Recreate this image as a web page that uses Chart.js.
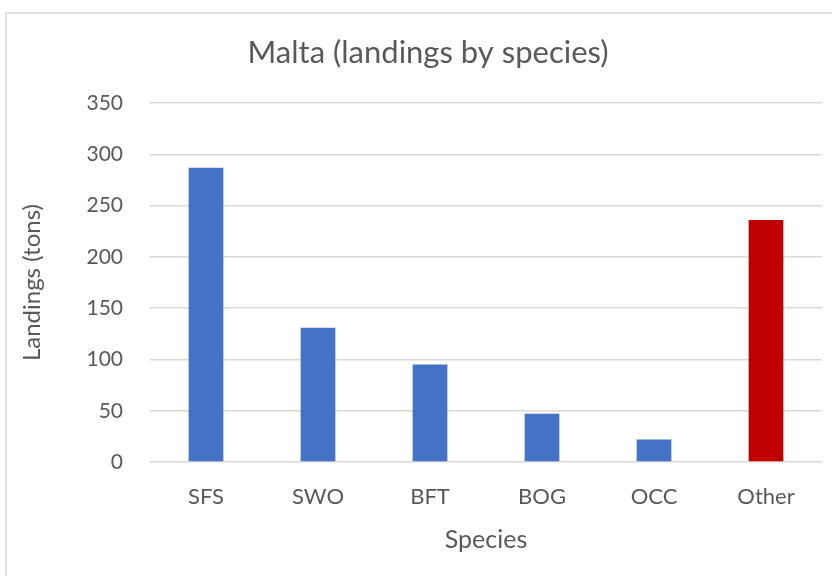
<!DOCTYPE html>
<html lang="en">
<head>
  <meta charset="UTF-8">
  <title>Malta landings</title>
  <script src="https://cdn.jsdelivr.net/npm/chart.js@4.4.1/dist/chart.umd.min.js"></script>
  <style>
    html, body { margin: 0; padding: 0; background: #fff; }
    #wrap { width: 832px; height: 576px; }
  </style>
</head>
<body>
  <div id="wrap"><canvas id="barChart" width="832" height="576"></canvas></div>

  <script>
    // landings per species, tons
    const species = ['SFS', 'SWO', 'BFT', 'BOG', 'OCC', 'Other'];
    const landings = [287, 131, 95, 47, 22, 236];
    const barColors = ['#4472C4', '#4472C4', '#4472C4', '#4472C4', '#4472C4', '#C00000'];

    const textColor = '#595959';
    const fontFamily = 'Lato, "Open Sans", sans-serif';

    // light grey frame round the whole chart
    const frame = {
      id: 'frame',
      beforeDraw(chart) {
        const { ctx } = chart;
        ctx.save();
        ctx.strokeStyle = '#d9d9d9';
        ctx.lineWidth = 1.5;
        ctx.strokeRect(6, 13, 900, 700);
        ctx.restore();
      }
    };

    new Chart(document.getElementById('barChart').getContext('2d'), {
      type: 'bar',
      data: {
        labels: species,
        datasets: [{
          label: 'Landings',
          data: landings,
          backgroundColor: barColors,
          borderWidth: 0,
          categoryPercentage: 1,
          barPercentage: 0.31
        }]
      },
      options: {
        responsive: false,
        animation: false,
        layout: { padding: { left: 34, right: 10, top: 0, bottom: 0 } },
        plugins: {
          legend: { display: false },
          tooltip: { enabled: false },
          title: {
            display: true,
            text: 'Malta (landings by species)',
            color: textColor,
            font: { family: fontFamily, size: 31, weight: 'normal' },
            padding: { top: 34, bottom: 32 }
          }
        },
        scales: {
          x: {
            grid: { display: false, drawTicks: false },
            border: { display: false },
            ticks: {
              color: textColor,
              font: { family: fontFamily, size: 22 },
              padding: 22
            },
            title: {
              display: true,
              text: 'Species',
              color: textColor,
              font: { family: fontFamily, size: 25 },
              padding: { top: 0, bottom: 21 }
            },
            afterFit(scale) { scale.height = 114; }
          },
          y: {
            min: 0,
            max: 350,
            grid: { color: '#d9d9d9', lineWidth: 1.5, drawTicks: false },
            border: { display: false },
            ticks: {
              stepSize: 50,
              color: textColor,
              font: { family: fontFamily, size: 21 },
              padding: 27
            },
            title: {
              display: true,
              text: 'Landings (tons)',
              color: textColor,
              font: { family: fontFamily, size: 24 },
              padding: { top: -16, bottom: 0 }
            },
            afterFit(scale) { scale.width = 116; }
          }
        }
      },
      plugins: [frame]
    });
  </script>
</body>
</html>
